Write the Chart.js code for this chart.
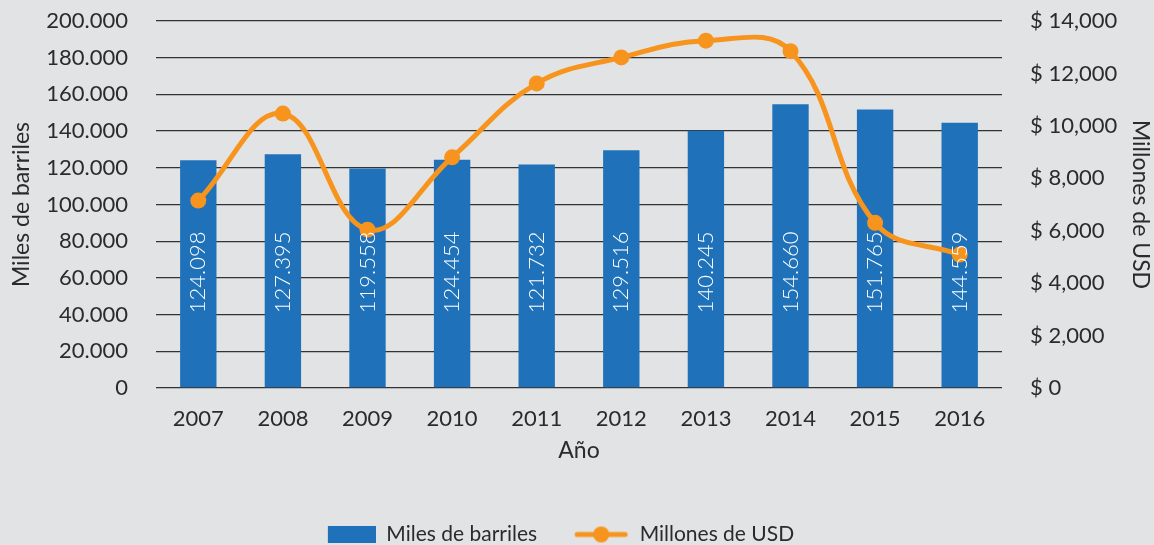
<!DOCTYPE html>
<html>
<head>
    <title>Miles de barriles y Millones de USD</title>
    <script src="https://cdn.jsdelivr.net/npm/chart.js"></script>
    <style>
        body { margin: 0; background: #e2e3e4; }
        .chart-container { width: 1154px; height: 545px; }
    </style>
</head>
<body>
    <div class="chart-container">
        <canvas id="mixedChart"></canvas>
    </div>

    <script>
        const years = ['2007', '2008', '2009', '2010', '2011', '2012', '2013', '2014', '2015', '2016'];
        const barriles = [124098, 127395, 119558, 124454, 121732, 129516, 140245, 154660, 151765, 144559];
        const millonesUSD = [7150, 10470, 6040, 8800, 11620, 12610, 13250, 12850, 6300, 5090];

        const blue = '#1f72b9';
        const orange = '#f7941e';
        const textColor = '#2b2b2b';
        Chart.defaults.font.family = 'Lato, "Noto Sans", sans-serif';
        Chart.defaults.color = textColor;

        // legend icons (wide canvases so the items sit further apart)
        const barIcon = document.createElement('canvas');
        barIcon.width = 90; barIcon.height = 17;
        let c = barIcon.getContext('2d');
        c.fillStyle = blue;
        c.fillRect(42, 0, 48, 17);

        const lineIcon = document.createElement('canvas');
        lineIcon.width = 90; lineIcon.height = 18;
        c = lineIcon.getContext('2d');
        c.strokeStyle = orange;
        c.lineWidth = 5;
        c.lineCap = 'round';
        c.beginPath(); c.moveTo(38, 9); c.lineTo(86, 9); c.stroke();
        c.fillStyle = orange;
        c.beginPath(); c.arc(62, 9, 8, 0, Math.PI * 2); c.fill();

        const fmtDot = v => v.toLocaleString('de-DE');

        // white vertical value labels inside the bars
        const barLabels = {
            id: 'barLabels',
            afterDatasetsDraw(chart) {
                const meta = chart.getDatasetMeta(0);
                const ctx = chart.ctx;
                const y = chart.scales.y.getPixelForValue(63000);
                ctx.save();
                ctx.fillStyle = '#ffffff';
                ctx.font = '300 22px Lato, "Noto Sans", sans-serif';
                ctx.textAlign = 'center';
                ctx.textBaseline = 'middle';
                meta.data.forEach((bar, i) => {
                    ctx.save();
                    ctx.translate(bar.x, y);
                    ctx.rotate(-Math.PI / 2);
                    ctx.fillText(fmtDot(barriles[i]), 0, 0);
                    ctx.restore();
                });
                ctx.restore();
            }
        };

        // nudge the legend to where it sits in the original
        const moveLegend = {
            id: 'moveLegend',
            afterLayout(chart) {
                const lg = chart.legend;
                lg.left -= 41; lg.right -= 41;
                lg.top += 10; lg.bottom += 10;
            }
        };

        const ctx = document.getElementById('mixedChart').getContext('2d');

        const chart = new Chart(ctx, {
            data: {
                labels: years,
                datasets: [
                    {
                        type: 'bar',
                        label: 'Miles de barriles',
                        data: barriles,
                        backgroundColor: blue,
                        barPercentage: 0.43,
                        categoryPercentage: 1,
                        yAxisID: 'y',
                        order: 1
                    },
                    {
                        type: 'line',
                        label: 'Millones de USD',
                        data: millonesUSD,
                        borderColor: orange,
                        backgroundColor: orange,
                        borderWidth: 5,
                        pointRadius: 8,
                        pointBackgroundColor: orange,
                        pointBorderWidth: 0,
                        tension: 0.4,
                        yAxisID: 'y1',
                        order: 0
                    }
                ]
            },
            options: {
                responsive: true,
                maintainAspectRatio: false,
                animation: false,
                layout: { padding: { left: 8, right: 0, top: 21, bottom: 0 } },
                plugins: {
                    tooltip: { enabled: false },
                    legend: {
                        position: 'bottom',
                        labels: {
                            usePointStyle: true,
                            pointStyleWidth: 90,
                            padding: 2,
                            font: { size: 21 },
                            color: textColor,
                            generateLabels: () => [
                                { text: 'Miles de barriles', pointStyle: barIcon, fontColor: textColor, datasetIndex: 0 },
                                { text: 'Millones de USD', pointStyle: lineIcon, fontColor: textColor, datasetIndex: 1 }
                            ]
                        }
                    }
                },
                scales: {
                    x: {
                        grid: { display: false },
                        border: { display: false },
                        ticks: { font: { size: 22 }, padding: 10 },
                        title: {
                            display: true,
                            text: 'Año',
                            font: { size: 23 },
                            padding: { top: -6, bottom: 48 }
                        }
                    },
                    y: {
                        position: 'left',
                        min: 0,
                        max: 200000,
                        afterFit: s => { s.width = 148; },
                        ticks: {
                            stepSize: 20000,
                            font: { size: 22 },
                            padding: 2,
                            callback: v => fmtDot(v)
                        },
                        grid: { color: '#333333', lineWidth: 1.3, drawTicks: true, tickLength: 26, tickColor: 'transparent' },
                        border: { display: false },
                        title: {
                            display: true,
                            text: 'Miles de barriles',
                            font: { size: 23 },
                            padding: 0
                        }
                    },
                    y1: {
                        position: 'right',
                        min: 0,
                        max: 14000,
                        afterFit: s => { s.width = 152; },
                        ticks: {
                            stepSize: 2000,
                            font: { size: 22 },
                            padding: 2,
                            callback: v => '$ ' + v.toLocaleString('en-US')
                        },
                        grid: { drawOnChartArea: false, drawTicks: true, tickLength: 26, tickColor: 'transparent' },
                        border: { display: false },
                        title: {
                            display: true,
                            text: 'Millones de USD',
                            font: { size: 23 },
                            padding: 0
                        }
                    }
                }
            },
            plugins: [barLabels, moveLegend]
        });
    </script>
</body>
</html>
